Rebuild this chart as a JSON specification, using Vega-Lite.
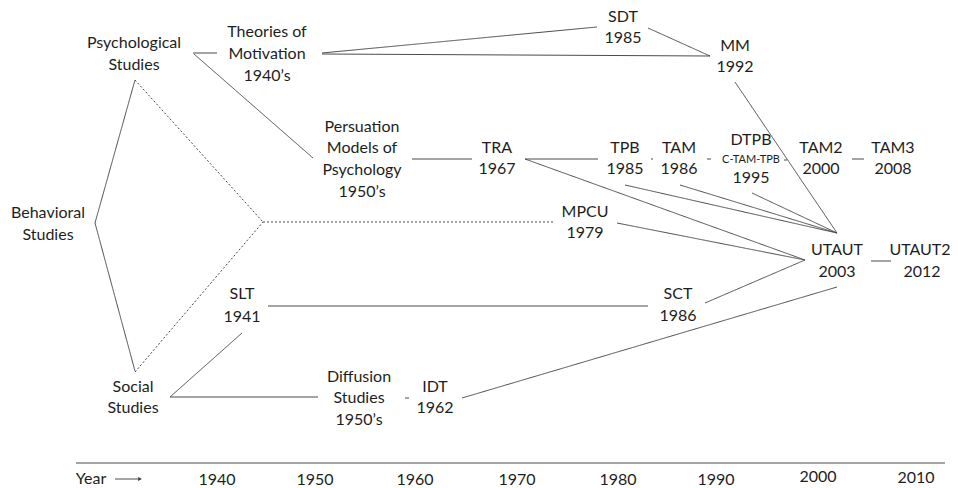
{
  "$schema": "https://vega.github.io/schema/vega-lite/v6.json",
  "autosize": {"type": "fit", "contains": "padding"},
  "width": 958,
  "height": 488,
  "padding": 0,
  "background": "white",
  "config": {"view": {"stroke": null}},
  "datasets": {
    "edges": [
      {"x": 193, "y": 53, "x2": 217, "y2": 53, "style": "solid"},
      {"x": 194, "y": 54, "x2": 313, "y2": 158, "style": "solid"},
      {"x": 322, "y": 53, "x2": 597, "y2": 27, "style": "solid"},
      {"x": 322, "y": 54, "x2": 710, "y2": 56, "style": "solid"},
      {"x": 648, "y": 28, "x2": 710, "y2": 56, "style": "solid"},
      {"x": 412, "y": 159, "x2": 472, "y2": 159, "style": "solid"},
      {"x": 95, "y": 223, "x2": 135, "y2": 80, "style": "solid"},
      {"x": 95, "y": 223, "x2": 135, "y2": 371, "style": "solid"},
      {"x": 135, "y": 80, "x2": 263, "y2": 222, "style": "dotted"},
      {"x": 135, "y": 372, "x2": 263, "y2": 222, "style": "dotted"},
      {"x": 263, "y": 222, "x2": 555, "y2": 222, "style": "dotted"},
      {"x": 525, "y": 159, "x2": 598, "y2": 159, "style": "solid"},
      {"x": 651, "y": 159, "x2": 653, "y2": 159, "style": "solid"},
      {"x": 707, "y": 159, "x2": 711, "y2": 159, "style": "solid"},
      {"x": 784, "y": 160, "x2": 787, "y2": 160, "style": "solid"},
      {"x": 852, "y": 159, "x2": 864, "y2": 159, "style": "solid"},
      {"x": 525, "y": 159, "x2": 805, "y2": 260, "style": "solid"},
      {"x": 625, "y": 185, "x2": 837, "y2": 233, "style": "solid"},
      {"x": 680, "y": 185, "x2": 837, "y2": 233, "style": "solid"},
      {"x": 752, "y": 193, "x2": 837, "y2": 233, "style": "solid"},
      {"x": 735, "y": 82, "x2": 837, "y2": 233, "style": "solid"},
      {"x": 617, "y": 223, "x2": 805, "y2": 260, "style": "solid"},
      {"x": 705, "y": 303, "x2": 805, "y2": 260, "style": "solid"},
      {"x": 268, "y": 306, "x2": 648, "y2": 306, "style": "solid"},
      {"x": 170, "y": 397, "x2": 242, "y2": 333, "style": "solid"},
      {"x": 170, "y": 397, "x2": 318, "y2": 397, "style": "solid"},
      {"x": 405, "y": 398, "x2": 409, "y2": 398, "style": "solid"},
      {"x": 462, "y": 398, "x2": 837, "y2": 287, "style": "solid"},
      {"x": 871, "y": 261, "x2": 891, "y2": 261, "style": "solid"},
      {"x": 76, "y": 463, "x2": 945, "y2": 463, "style": "solid"},
      {"x": 115, "y": 479, "x2": 138, "y2": 479, "style": "solid"}
    ],
    "labels": [
      {"x": 134, "y": 43, "text": "Psychological", "kind": "normal"},
      {"x": 134, "y": 65, "text": "Studies", "kind": "normal"},
      {"x": 267, "y": 32, "text": "Theories of", "kind": "normal"},
      {"x": 267, "y": 54, "text": "Motivation", "kind": "normal"},
      {"x": 267, "y": 76, "text": "1940’s", "kind": "normal"},
      {"x": 362, "y": 127, "text": "Persuation", "kind": "normal"},
      {"x": 362, "y": 148, "text": "Models of", "kind": "normal"},
      {"x": 362, "y": 170, "text": "Psychology", "kind": "normal"},
      {"x": 362, "y": 192, "text": "1950’s", "kind": "normal"},
      {"x": 48, "y": 213, "text": "Behavioral", "kind": "normal"},
      {"x": 48, "y": 235, "text": "Studies", "kind": "normal"},
      {"x": 623, "y": 17, "text": "SDT", "kind": "normal"},
      {"x": 623, "y": 38, "text": "1985", "kind": "normal"},
      {"x": 735, "y": 46, "text": "MM", "kind": "normal"},
      {"x": 735, "y": 67, "text": "1992", "kind": "normal"},
      {"x": 497, "y": 148, "text": "TRA", "kind": "normal"},
      {"x": 497, "y": 169, "text": "1967", "kind": "normal"},
      {"x": 625, "y": 148, "text": "TPB", "kind": "normal"},
      {"x": 625, "y": 169, "text": "1985", "kind": "normal"},
      {"x": 679, "y": 148, "text": "TAM", "kind": "normal"},
      {"x": 679, "y": 169, "text": "1986", "kind": "normal"},
      {"x": 751, "y": 140, "text": "DTPB", "kind": "normal"},
      {"x": 751, "y": 160, "text": "C-TAM-TPB", "kind": "small"},
      {"x": 751, "y": 178, "text": "1995", "kind": "normal"},
      {"x": 821, "y": 148, "text": "TAM2", "kind": "normal"},
      {"x": 821, "y": 169, "text": "2000", "kind": "normal"},
      {"x": 893, "y": 148, "text": "TAM3", "kind": "normal"},
      {"x": 893, "y": 169, "text": "2008", "kind": "normal"},
      {"x": 585, "y": 212, "text": "MPCU", "kind": "normal"},
      {"x": 585, "y": 233, "text": "1979", "kind": "normal"},
      {"x": 837, "y": 250, "text": "UTAUT", "kind": "normal"},
      {"x": 837, "y": 272, "text": "2003", "kind": "normal"},
      {"x": 920, "y": 250, "text": "UTAUT2", "kind": "normal"},
      {"x": 922, "y": 272, "text": "2012", "kind": "normal"},
      {"x": 678, "y": 294, "text": "SCT", "kind": "normal"},
      {"x": 678, "y": 316, "text": "1986", "kind": "normal"},
      {"x": 242, "y": 294, "text": "SLT", "kind": "normal"},
      {"x": 242, "y": 317, "text": "1941", "kind": "normal"},
      {"x": 133, "y": 387, "text": "Social", "kind": "normal"},
      {"x": 133, "y": 408, "text": "Studies", "kind": "normal"},
      {"x": 359, "y": 377, "text": "Diffusion", "kind": "normal"},
      {"x": 359, "y": 398, "text": "Studies", "kind": "normal"},
      {"x": 359, "y": 420, "text": "1950’s", "kind": "normal"},
      {"x": 435, "y": 387, "text": "IDT", "kind": "normal"},
      {"x": 435, "y": 408, "text": "1962", "kind": "normal"},
      {"x": 91, "y": 479, "text": "Year", "kind": "normal"},
      {"x": 217, "y": 480, "text": "1940", "kind": "normal"},
      {"x": 315, "y": 480, "text": "1950", "kind": "normal"},
      {"x": 415, "y": 480, "text": "1960", "kind": "normal"},
      {"x": 517, "y": 480, "text": "1970", "kind": "normal"},
      {"x": 618, "y": 480, "text": "1980", "kind": "normal"},
      {"x": 716, "y": 480, "text": "1990", "kind": "normal"},
      {"x": 818, "y": 477, "text": "2000", "kind": "normal"},
      {"x": 916, "y": 478, "text": "2010", "kind": "normal"}
    ],
    "arrow": [{"x": 140, "y": 479}]
  },
  "layer": [
    {
      "data": {"name": "edges"},
      "mark": {"type": "rule", "color": "#4a4a4a", "strokeWidth": 1},
      "encoding": {
        "x": {"field": "x", "type": "quantitative", "scale": {"domain": [0, 958], "nice": false, "zero": false}, "axis": null},
        "y": {"field": "y", "type": "quantitative", "scale": {"domain": [0, 488], "nice": false, "zero": false, "reverse": true}, "axis": null},
        "x2": {"field": "x2"},
        "y2": {"field": "y2"},
        "strokeDash": {"field": "style", "type": "nominal", "scale": {"domain": ["solid", "dotted"], "range": [[1, 0], [2, 2]]}, "legend": null}
      }
    },
    {
      "data": {"name": "arrow"},
      "mark": {"type": "point", "shape": "triangle-right", "filled": true, "color": "#333", "size": 18, "opacity": 1},
      "encoding": {
        "x": {"field": "x", "type": "quantitative"},
        "y": {"field": "y", "type": "quantitative"}
      }
    },
    {
      "data": {"name": "labels"},
      "transform": [{"filter": "datum.kind === 'normal'"}],
      "mark": {"type": "text", "font": "Lato", "fontSize": 16, "color": "#1e1e1e", "align": "center", "baseline": "middle"},
      "encoding": {
        "x": {"field": "x", "type": "quantitative"},
        "y": {"field": "y", "type": "quantitative"},
        "text": {"field": "text"}
      }
    },
    {
      "data": {"name": "labels"},
      "transform": [{"filter": "datum.kind === 'small'"}],
      "mark": {"type": "text", "font": "Lato", "fontSize": 11, "color": "#1e1e1e", "align": "center", "baseline": "middle"},
      "encoding": {
        "x": {"field": "x", "type": "quantitative"},
        "y": {"field": "y", "type": "quantitative"},
        "text": {"field": "text"}
      }
    }
  ]
}
